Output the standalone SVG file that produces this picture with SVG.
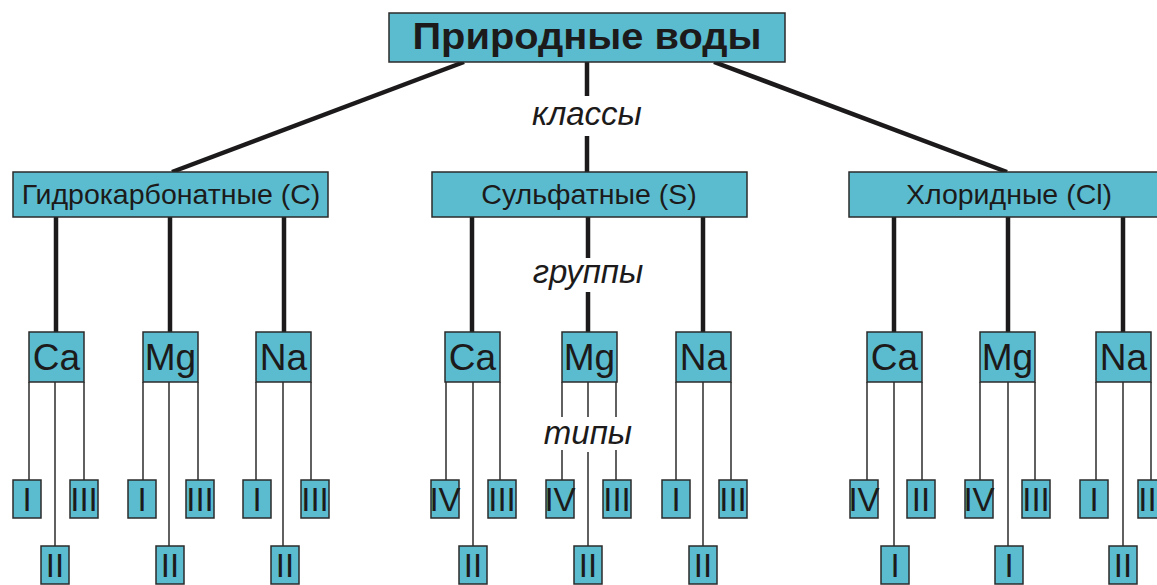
<svg xmlns="http://www.w3.org/2000/svg" width="1157" height="585" viewBox="0 0 1157 585">
<style>
.box{fill:#5bbccf;stroke:#2b2b2b;stroke-width:1.5}
.thick{stroke:#1c1a1a;stroke-width:4.5;fill:none}
.thin{stroke:#3a3a3a;stroke-width:1.6;fill:none}
text{font-family:"Liberation Sans",Arial,sans-serif;fill:#1c1a1a;text-anchor:middle}
.title{font-weight:bold;font-size:36px}
.cls{font-size:28.5px}
.grp{font-size:37px}
.typ{font-size:33px}
.lbl{font-size:33px;font-style:italic}
</style>
<rect width="1157" height="585" fill="#ffffff"/>
<g id="connectors">
<line class="thick" x1="464" y1="62" x2="172" y2="172"/>
<line class="thick" x1="714" y1="62" x2="1007" y2="172"/>
<line class="thick" x1="587" y1="62" x2="587" y2="96"/>
<line class="thick" x1="587" y1="136" x2="587" y2="172"/>
<line class="thick" x1="56" y1="217" x2="56" y2="332"/>
<line class="thick" x1="170" y1="217" x2="170" y2="332"/>
<line class="thick" x1="284" y1="217" x2="284" y2="332"/>
<line class="thick" x1="472" y1="217" x2="472" y2="332"/>
<line class="thick" x1="588" y1="217" x2="588" y2="258"/>
<line class="thick" x1="588" y1="292" x2="588" y2="332"/>
<line class="thick" x1="703" y1="217" x2="703" y2="332"/>
<line class="thick" x1="894" y1="217" x2="894" y2="332"/>
<line class="thick" x1="1008" y1="217" x2="1008" y2="332"/>
<line class="thick" x1="1123" y1="217" x2="1123" y2="332"/>
<path class="thin" d="M29 382V480M55 382V546M84 382V480M143 382V480M169 382V546M198 382V480M256 382V480M283 382V546M311 382V480"/>
<path class="thin" d="M446 382V480M473 382V546M500 382V480M562 382V417M562 450V480M588 382V417M588 452V546M616 382V417M616 450V480M676 382V480M703 382V546M731 382V480"/>
<path class="thin" d="M867 382V480M894 382V546M922 382V480M980 382V480M1008 382V546M1035 382V480M1096 382V480M1123 382V546M1151 382V480"/>
</g>
<text class="lbl" x="587" y="125">классы</text>
<text class="lbl" x="588" y="283">группы</text>
<text class="lbl" x="588" y="444">типы</text>
<g id="root"><rect class="box" x="389" y="13" width="396" height="49"/><text class="title" x="587" y="49" textLength="349" lengthAdjust="spacingAndGlyphs">Природные воды</text></g>
<g id="class-c"><rect class="box" x="13" y="172" width="315" height="45"/><text class="cls" x="171" y="204">Гидрокарбонатные (С)</text></g>
<g id="class-s"><rect class="box" x="432" y="172" width="315" height="45"/><text class="cls" x="589" y="204">Сульфатные (S)</text></g>
<g id="class-cl"><rect class="box" x="849" y="172" width="320" height="45"/><text class="cls" x="1009" y="204">Хлоридные (Cl)</text></g>
<g id="c-ca"><rect class="box" x="29" y="332" width="55" height="50"/><text class="grp" x="56.5" y="370">Ca</text></g>
<g id="c-mg"><rect class="box" x="143" y="332" width="55" height="50"/><text class="grp" x="170.5" y="370">Mg</text></g>
<g id="c-na"><rect class="box" x="256" y="332" width="55" height="50"/><text class="grp" x="283.5" y="370">Na</text></g>
<g id="s-ca"><rect class="box" x="445" y="332" width="55" height="50"/><text class="grp" x="472.5" y="370">Ca</text></g>
<g id="s-mg"><rect class="box" x="562" y="332" width="55" height="50"/><text class="grp" x="589.5" y="370">Mg</text></g>
<g id="s-na"><rect class="box" x="676" y="332" width="55" height="50"/><text class="grp" x="703.5" y="370">Na</text></g>
<g id="cl-ca"><rect class="box" x="867" y="332" width="55" height="50"/><text class="grp" x="894.5" y="370">Ca</text></g>
<g id="cl-mg"><rect class="box" x="980" y="332" width="55" height="50"/><text class="grp" x="1007.5" y="370">Mg</text></g>
<g id="cl-na"><rect class="box" x="1096" y="332" width="55" height="50"/><text class="grp" x="1123.5" y="370">Na</text></g>
<g id="c-ca-1"><rect class="box" x="13" y="480" width="28" height="38"/><text class="typ" x="27" y="511">I</text></g>
<g id="c-ca-3"><rect class="box" x="70" y="480" width="28" height="38"/><text class="typ" x="84" y="511">III</text></g>
<g id="c-ca-2"><rect class="box" x="41" y="546" width="28" height="38"/><text class="typ" x="55" y="577">II</text></g>
<g id="c-mg-1"><rect class="box" x="128" y="480" width="28" height="38"/><text class="typ" x="142" y="511">I</text></g>
<g id="c-mg-3"><rect class="box" x="186" y="480" width="28" height="38"/><text class="typ" x="200" y="511">III</text></g>
<g id="c-mg-2"><rect class="box" x="156" y="546" width="28" height="38"/><text class="typ" x="170" y="577">II</text></g>
<g id="c-na-1"><rect class="box" x="243" y="480" width="28" height="38"/><text class="typ" x="257" y="511">I</text></g>
<g id="c-na-3"><rect class="box" x="301" y="480" width="28" height="38"/><text class="typ" x="315" y="511">III</text></g>
<g id="c-na-2"><rect class="box" x="271" y="546" width="28" height="38"/><text class="typ" x="285" y="577">II</text></g>
<g id="s-ca-4"><rect class="box" x="431" y="480" width="28" height="38"/><text class="typ" x="445" y="511">IV</text></g>
<g id="s-ca-3"><rect class="box" x="488" y="480" width="28" height="38"/><text class="typ" x="502" y="511">III</text></g>
<g id="s-ca-2"><rect class="box" x="459" y="546" width="28" height="38"/><text class="typ" x="473" y="577">II</text></g>
<g id="s-mg-4"><rect class="box" x="546" y="480" width="28" height="38"/><text class="typ" x="560" y="511">IV</text></g>
<g id="s-mg-3"><rect class="box" x="603" y="480" width="28" height="38"/><text class="typ" x="617" y="511">III</text></g>
<g id="s-mg-2"><rect class="box" x="574" y="546" width="28" height="38"/><text class="typ" x="588" y="577">II</text></g>
<g id="s-na-1"><rect class="box" x="662" y="480" width="28" height="38"/><text class="typ" x="676" y="511">I</text></g>
<g id="s-na-3"><rect class="box" x="719" y="480" width="28" height="38"/><text class="typ" x="733" y="511">III</text></g>
<g id="s-na-2"><rect class="box" x="689" y="546" width="28" height="38"/><text class="typ" x="703" y="577">II</text></g>
<g id="cl-ca-4"><rect class="box" x="850" y="480" width="28" height="38"/><text class="typ" x="864" y="511">IV</text></g>
<g id="cl-ca-2"><rect class="box" x="907" y="480" width="28" height="38"/><text class="typ" x="921" y="511">II</text></g>
<g id="cl-ca-1"><rect class="box" x="881" y="546" width="28" height="38"/><text class="typ" x="895" y="577">I</text></g>
<g id="cl-mg-4"><rect class="box" x="965" y="480" width="28" height="38"/><text class="typ" x="979" y="511">IV</text></g>
<g id="cl-mg-3"><rect class="box" x="1022" y="480" width="28" height="38"/><text class="typ" x="1036" y="511">III</text></g>
<g id="cl-mg-1"><rect class="box" x="995" y="546" width="28" height="38"/><text class="typ" x="1009" y="577">I</text></g>
<g id="cl-na-1"><rect class="box" x="1080" y="480" width="28" height="38"/><text class="typ" x="1094" y="511">I</text></g>
<g id="cl-na-3"><rect class="box" x="1138" y="480" width="28" height="38"/><text class="typ" x="1152" y="511">III</text></g>
<g id="cl-na-2"><rect class="box" x="1109" y="546" width="28" height="38"/><text class="typ" x="1123" y="577">II</text></g>
</svg>
